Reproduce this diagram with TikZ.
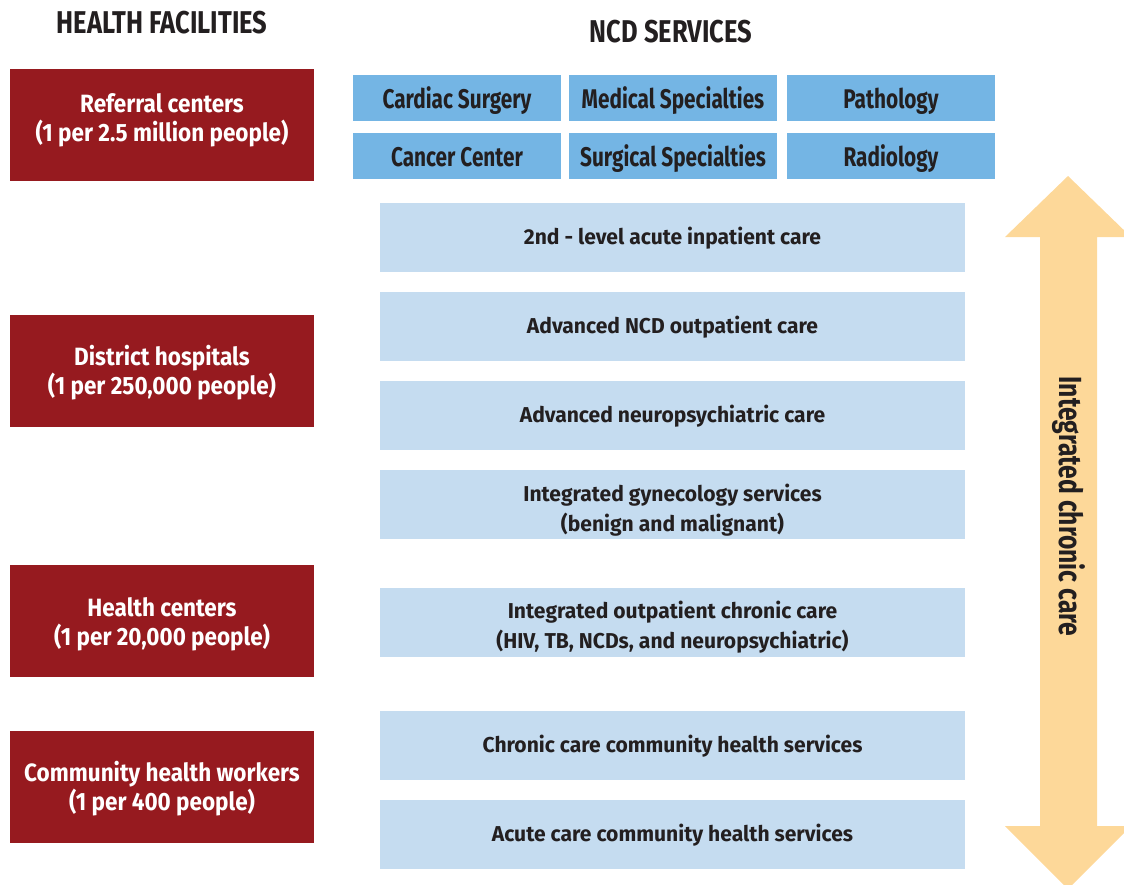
\documentclass[tikz,border=0pt]{standalone}
\usepackage{fontspec}
\setmainfont{Fira Sans}
\newfontfamily\redfam{Fira Sans}[FakeStretch=0.9]
\newfontfamily\topfam{Fira Sans}[FakeStretch=0.77]
\newfontfamily\litefam{Fira Sans}[FakeStretch=0.98]
\newfontfamily\headfam{Fira Sans}[FakeStretch=0.81]
\newfontfamily\arrfam{Fira Sans}[FakeStretch=0.77]
\definecolor{fred}{HTML}{961A1F}
\definecolor{topblue}{HTML}{74B5E4}
\definecolor{liteblue}{HTML}{C5DCF0}
\definecolor{arrowy}{HTML}{FDD899}
\definecolor{txt}{HTML}{231F20}
\tikzset{
  redbox/.style={fill=fred, text=white, minimum width=304, minimum height=112, align=center, inner sep=0, text depth=0pt, font=\redfam\bfseries\fontsize{25}{29}\selectfont},
  topbox/.style={fill=topblue, text=txt, minimum width=208, minimum height=46, inner sep=0, text height=21pt, text depth=0pt, font=\topfam\bfseries\fontsize{27}{30}\selectfont},
  litebox/.style={fill=liteblue, text=txt, minimum width=585, minimum height=69, align=center, inner sep=0, text height=14pt, text depth=0pt, font=\litefam\bfseries\fontsize{21.5}{30}\selectfont},
  header/.style={text=txt, inner sep=0, font=\headfam\bfseries\fontsize{31.5}{34}\selectfont},
}
\begin{document}
\begin{tikzpicture}[x=1pt, y=-1pt]
\useasboundingbox (0,0) rectangle (1124,884);
\clip (0,0) rectangle (1124,884);
\node[header, anchor=base] (hf) at (162,33.3) {HEALTH FACILITIES};
\node[header, anchor=base] (ncd) at (671,42) {NCD SERVICES};
% red boxes
\node[redbox, text height=33.4pt] (ref) at (162,125) {Referral centers\\(1 per 2.5 million people)};
\node[redbox, text height=46.6pt] (dist) at (162,371) {District hospitals\\(1 per 250,000 people)};
\node[redbox, text height=49.4pt] (hc) at (162,621) {Health centers\\(1 per 20,000 people)};
\node[redbox, text height=46pt] (chw) at (162,787) {Community health workers\\(1 per 400 people)};
% top blue boxes
\node[topbox] (t1) at (457,98) {Cardiac Surgery};
\node[topbox] (t2) at (673,98) {Medical Specialties};
\node[topbox] (t3) at (891,98) {Pathology};
\node[topbox] (t4) at (457,156) {Cancer Center};
\node[topbox] (t5) at (673,156) {Surgical Specialties};
\node[topbox] (t6) at (891,156) {Radiology};
% light boxes
\node[litebox] (l1) at (672.5,237.5) {2nd - level acute inpatient care};
\node[litebox] (l2) at (672.5,326.5) {Advanced NCD outpatient care};
\node[litebox] (l3) at (672.5,415.5) {Advanced neuropsychiatric care};
\node[litebox, text height=54pt] (l4) at (672.5,504.5) {Integrated gynecology services\\(benign and malignant)};
\node[litebox, text height=51.6pt] (l5) at (672.5,622.5) {Integrated outpatient chronic care\\(HIV, TB, NCDs, and neuropsychiatric)};
\node[litebox] (l6) at (672.5,745.5) {Chronic care community health services};
\node[litebox] (l7) at (672.5,834.5) {Acute care community health services};
% double arrow
\fill[arrowy] (1068,176) -- (1131,237) -- (1097,237) -- (1097,826) -- (1131,826) -- (1068,889) -- (1005,826) -- (1040,826) -- (1040,237) -- (1005,237) -- cycle;
\node[text=txt, inner sep=0, rotate=-90, font=\arrfam\bfseries\fontsize{32}{34}\selectfont] (icc) at (1069,506.5) {Integrated chronic care};
\end{tikzpicture}
\end{document}
